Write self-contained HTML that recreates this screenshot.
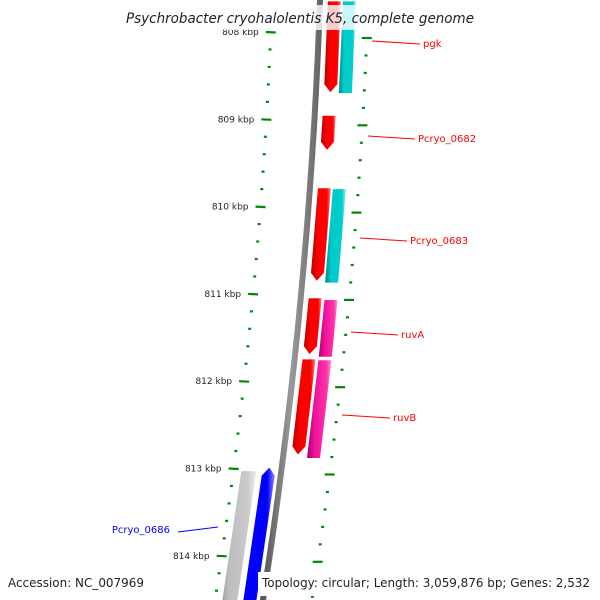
<!DOCTYPE html>
<html><head><meta charset="utf-8"><style>
body{margin:0;background:#fff;overflow:hidden}
svg{display:block;font-family:"DejaVu Sans","Liberation Sans",sans-serif}
</style></head><body>
<svg id="c" width="600" height="600" viewBox="0 0 600 600">
<defs>
<linearGradient id="gr" x1="0" x2="1" y1="0" y2="0"><stop offset="0" stop-color="#b00"/><stop offset="0.4" stop-color="#f00"/><stop offset="0.8" stop-color="#f00"/><stop offset="1" stop-color="#f88"/></linearGradient>
<linearGradient id="gc" x1="0" x2="1" y1="0" y2="0"><stop offset="0" stop-color="#088"/><stop offset="0.3" stop-color="#0cc"/><stop offset="0.8" stop-color="#0cc"/><stop offset="1" stop-color="#8ee"/></linearGradient>
<linearGradient id="gp" x1="0" x2="1" y1="0" y2="0"><stop offset="0" stop-color="#a06"/><stop offset="0.3" stop-color="#e19"/><stop offset="0.8" stop-color="#f3a"/><stop offset="1" stop-color="#f9c"/></linearGradient>
<linearGradient id="gb" x1="0" x2="1" y1="0" y2="0"><stop offset="0" stop-color="#00a"/><stop offset="0.3" stop-color="#00f"/><stop offset="0.8" stop-color="#00f"/><stop offset="1" stop-color="#88f"/></linearGradient>
<linearGradient id="gg" x1="0" x2="1" y1="0" y2="0"><stop offset="0" stop-color="#888"/><stop offset="0.3" stop-color="#bbb"/><stop offset="0.8" stop-color="#ccc"/><stop offset="1" stop-color="#eee"/></linearGradient>
<linearGradient id="gk" x1="0" x2="1" y1="0" y2="0"><stop offset="0" stop-color="#555"/><stop offset="0.5" stop-color="#999"/><stop offset="1" stop-color="#666"/></linearGradient>
</defs>
<g id="layer"></g>
<rect x="120" y="5" width="360" height="25" fill="#fff" fill-opacity="0.8"/>
<text x="126" y="23" font-size="14" font-style="italic" fill="#222" textLength="348" lengthAdjust="spacingAndGlyphs">Psychrobacter cryohalolentis K5, complete genome</text>
<text x="8" y="587" font-size="12" fill="#222" textLength="136" lengthAdjust="spacingAndGlyphs">Accession: NC_007969</text>
<rect x="258" y="572" width="342" height="24" fill="#fff"/>
<text x="262" y="587" font-size="12" fill="#222" textLength="328" lengthAdjust="spacingAndGlyphs">Topology: circular; Length: 3,059,876 bp; Genes: 2,532</text>
</svg>
<script>
const tickKbp=[808,809,810,811,812,813,814];
const geneNames=["pgk","Pcryo_0682","Pcryo_0683","ruvA","ruvB","Pcryo_0686"];
const geneStart=[807.65,808.96,809.79,811.05,811.75,812.99];
const geneEnd=[808.69,809.35,810.85,811.69,812.84,815.0];
const geneStrand=[-1,-1,-1,-1,-1,1];
const pairStart=[807.65,null,809.80,811.07,811.76,813.03];
const pairEnd=[808.70,null,810.87,811.72,812.88,815.0];
const pairColor=["gc",null,"gc","gp","gp","gg"];
const NS="http://www.w3.org/2000/svg";
const L=document.getElementById('layer');
function yOf(k){return 32+(k-808)*87.3;}
function bx(y){return 320-0.035*y-0.0001*y*y;}
function mk(t,a){const e=document.createElementNS(NS,t);for(const k in a)e.setAttribute(k,a[k]);L.appendChild(e);return e;}
let pts=[];for(let y=-5;y<=605;y+=10)pts.push(bx(y).toFixed(1)+","+y);
let bb=mk('polyline',{points:pts.join(' '),fill:'none',stroke:'url(#gk)','stroke-width':6});


for(let k=807.6;k<=815.2;k+=0.2){
  const y=yOf(k);if(y<20||y>600)continue;
  const major=Math.abs(k-Math.round(k))<0.01;
  const xl=bx(y)-48, xr=bx(y)+48;
  const w=major?10:3;
  let t1=mk('line',{x1:xl-w/2,x2:xl+w/2,y1:y,y2:y+(major?0.5:0),stroke:'#080','stroke-width':2.2});
  
  
  let t2=mk('line',{x1:xr-w/2,x2:xr+w/2,y1:y+6,y2:y+6,stroke:'#080','stroke-width':2.2});
  
  
}
tickKbp.forEach(k=>{const y=yOf(k);
  let t=mk('text',{x:bx(y)-60,y:y+3,'font-size':9,'text-anchor':'end',fill:'#222'});t.textContent=k+' kbp';
  
  });
function gene(s,e,off,w,fill,strand,name){
  const y1=yOf(s),y2=yOf(e),a=8;
  let p;
  const L1=(y)=>bx(y)+off, R1=(y)=>bx(y)+off+w;
  if(strand<0){const ya=y2-a;
    p=[[L1(y1),y1],[R1(y1),y1],[R1(ya),ya],[(L1(y2)+R1(y2))/2,y2],[L1(ya),ya]];}
  else if(strand>0){const ya=y1+a;
    p=[[(L1(y1)+R1(y1))/2,y1],[R1(ya),ya],[R1(y2),y2],[L1(y2),y2],[L1(ya),ya]];}
  else p=[[L1(y1),y1],[R1(y1),y1],[R1(y2),y2],[L1(y2),y2]];
  let g=mk('polygon',{points:p.map(q=>q[0].toFixed(1)+','+q[1].toFixed(1)).join(' '),fill:'url(#'+fill+')'});
  
  
}
const offs=[[8,23],[8,0],[8,23],[8,24],[8,24],[-19,-40]];
const labelPos=[[372,423,43],[368,418,138],[360,410,240],[351,401,334],[342,393,417],[218,170,529]];
geneNames.forEach((n,i)=>{
  if(pairStart[i]!==null)gene(pairStart[i],pairEnd[i],offs[i][1],i===5?15:13,pairColor[i],0,'paired-feature-'+n);
  gene(geneStart[i],geneEnd[i],offs[i][0],13,i===5?'gb':'gr',geneStrand[i],'gene-'+n);
  const [lx,tx,ty]=labelPos[i];const col=i===5?'#00f':'#f00';
  let ln=mk('line',{x1:lx,y1:ty-2,x2:i===5?178:tx-3,y2:i===5?ty+3:ty+1,stroke:col,'stroke-width':1});
  
  
  let t=mk('text',{x:tx,y:ty+4,'font-size':10,fill:col,'text-anchor':i===5?'end':'start'});t.textContent=n;
  
  
});
</script>
</body></html>
